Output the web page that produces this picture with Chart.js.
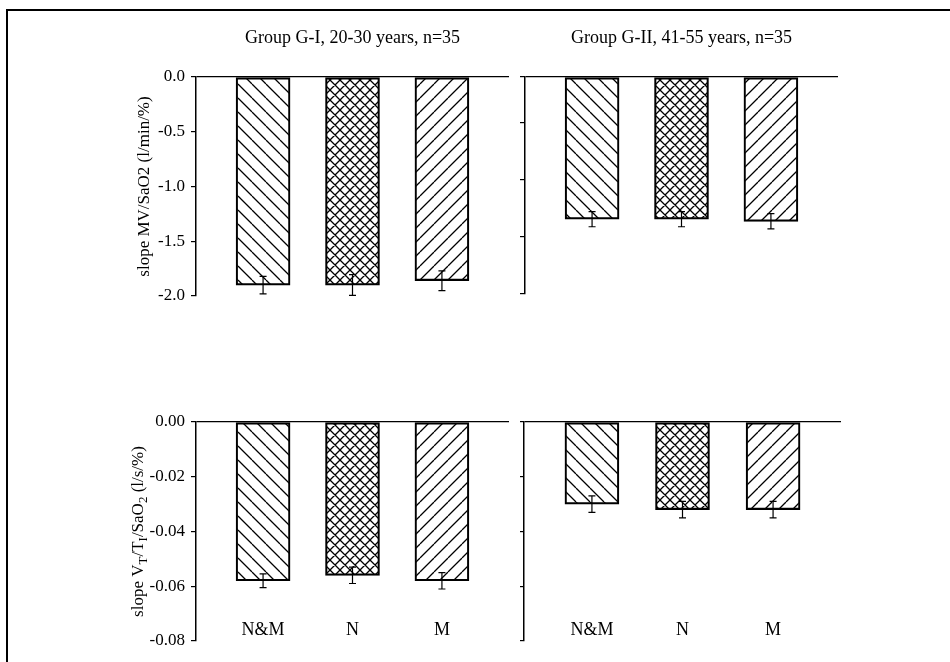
<!DOCTYPE html>
<html>
<head>
<meta charset="utf-8">
<script src="https://cdn.jsdelivr.net/npm/chart.js@4.4.1/dist/chart.umd.min.js"></script>
<style>
  body { margin: 0; background: #fff; }
  #page { position: relative; width: 950px; height: 662px; overflow: hidden; }
  .frame { position: absolute; left: 6px; top: 9px; right: -10px; bottom: -10px;
           border-left: 2px solid #000; border-top: 2px solid #000; }
  .box { position: absolute; }
</style>
</head>
<body>
<div id="page">
  <div class="frame"></div>
  <div class="box" style="left:0;top:0;width:520px;height:320px"><canvas id="tl"></canvas></div>
  <div class="box" style="left:520px;top:0;width:430px;height:320px"><canvas id="tr"></canvas></div>
  <div class="box" style="left:0;top:320px;width:520px;height:342px"><canvas id="bl"></canvas></div>
  <div class="box" style="left:520px;top:320px;width:430px;height:342px"><canvas id="br"></canvas></div>
</div>
<script>
const categories = ['N&M', 'N', 'M'];
const catPos = [1, 2, 3];

// slope MV/SaO2
const mvYoung = [-1.90, -1.90, -1.86];
const mvYoungErr = [0.08, 0.095, 0.09];
const mvOld = [-1.31, -1.31, -1.33];
const mvOldErr = [0.07, 0.07, 0.07];

// slope VT/TI/SaO2
const vtYoung = [-0.058, -0.056, -0.058];
const vtYoungErr = [0.0025, 0.003, 0.003];
const vtOld = [-0.030, -0.032, -0.032];
const vtOldErr = [0.003, 0.003, 0.003];

const mvTicks = [0, -0.5, -1.0, -1.5, -2.0];
const mvOldTicks = [0, -0.42, -0.95, -1.47, -2.0];
const vtTicks = [0, -0.02, -0.04, -0.06, -0.08];

const titleYoung = 'Group G-I, 20-30 years, n=35';
const titleOld = 'Group G-II, 41-55 years, n=35';
const mvLabel = [{ t: 'slope MV/SaO2 (l/min/%)' }];
const vtLabel = [{ t: 'slope V' }, { t: 'T', sub: true }, { t: '/T' }, { t: 'I', sub: true },
                 { t: '/SaO' }, { t: '2', sub: true }, { t: ' (l/s/%)' }];

const FONT = 'Liberation Serif, Times New Roman, serif';

// hatch fills
function hatch(kind) {
  const s = kind === 'cross' ? 10 : 14;
  const c = document.createElement('canvas');
  c.width = s; c.height = s;
  const g = c.getContext('2d');
  g.strokeStyle = '#000';
  g.lineWidth = 1.3;
  g.beginPath();
  for (let k = -1; k <= 1; k++) {
    if (kind === 'back' || kind === 'cross') { g.moveTo(k * s, 0); g.lineTo(k * s + s, s); }
    if (kind === 'fwd' || kind === 'cross') { g.moveTo(k * s + s, 0); g.lineTo(k * s, s); }
  }
  g.stroke();
  return g.createPattern(c, 'repeat');
}
const fills = [hatch('back'), hatch('cross'), hatch('fwd')];

const extras = {
  id: 'extras',
  afterDatasetsDraw(chart, args, o) {
    const ctx = chart.ctx, xs = chart.scales.x, ys = chart.scales.y, a = chart.chartArea;
    ctx.save();
    // error bars
    ctx.strokeStyle = '#000';
    ctx.lineWidth = 1.2;
    o.values.forEach((v, i) => {
      const x = xs.getPixelForValue(catPos[i]);
      const y1 = ys.getPixelForValue(v - o.errs[i]);
      const y2 = ys.getPixelForValue(v + o.errs[i]);
      ctx.beginPath();
      ctx.moveTo(x, y1); ctx.lineTo(x, y2);
      ctx.moveTo(x - 3.5, y1); ctx.lineTo(x + 3.5, y1);
      ctx.moveTo(x - 3.5, y2); ctx.lineTo(x + 3.5, y2);
      ctx.stroke();
    });
    ctx.fillStyle = '#000';
    // category labels inside the plot
    if (o.cats) {
      ctx.font = '18px ' + FONT;
      ctx.textAlign = 'center';
      ctx.textBaseline = 'middle';
      categories.forEach((c, i) => ctx.fillText(c, xs.getPixelForValue(catPos[i]), o.catY));
    }
    // panel title
    if (o.title) {
      ctx.font = '18px ' + FONT;
      ctx.textAlign = 'center';
      ctx.textBaseline = 'middle';
      ctx.fillText(o.title, (a.left + a.right) / 2, 38);
    }
    // y title with subscripts
    if (o.yTitle) {
      const big = '17px ' + FONT, small = '13px ' + FONT;
      let w = 0;
      o.yTitle.forEach(p => { ctx.font = p.sub ? small : big; w += ctx.measureText(p.t).width; });
      ctx.translate(o.yTitleX, (a.top + a.bottom) / 2);
      ctx.rotate(-Math.PI / 2);
      ctx.textAlign = 'left';
      ctx.textBaseline = 'middle';
      let x = -w / 2;
      o.yTitle.forEach(p => {
        ctx.font = p.sub ? small : big;
        ctx.fillText(p.t, x, p.sub ? 5 : 0);
        x += ctx.measureText(p.t).width;
      });
    }
    ctx.restore();
  }
};

function panel(id, values, errs, o) {
  return new Chart(document.getElementById(id), {
    type: 'bar',
    data: {
      datasets: [{
        data: catPos.map((x, i) => ({ x: x, y: values[i] })),
        backgroundColor: fills,
        borderColor: '#000',
        borderWidth: 1.5,
        borderSkipped: false,
        barThickness: 54
      }]
    },
    options: {
      responsive: true,
      maintainAspectRatio: false,
      animation: false,
      layout: { padding: o.pad },
      plugins: {
        legend: { display: false },
        tooltip: { enabled: false },
        extras: { values, errs, cats: o.cats, catY: o.catY, title: o.title,
                  yTitle: o.yTitle, yTitleX: o.yTitleX }
      },
      scales: {
        x: { type: 'linear', min: 0.25, max: 3.75, offset: false, display: false },
        y: {
          min: o.min, max: 0,
          afterFit: s => { s.width = o.axisW; },
          afterBuildTicks: s => { s.ticks = o.ticks.map(v => ({ value: v })); },
          ticks: {
            display: o.labels,
            color: '#000',
            padding: 6,
            font: { family: FONT, size: 17 },
            callback: v => v.toFixed(o.dec)
          },
          grid: {
            color: c => (c.tick && c.tick.value === 0 ? '#000' : 'rgba(0,0,0,0)'),
            tickColor: '#000',
            tickLength: 5,
            lineWidth: 1.2
          },
          border: { display: true, color: '#000', width: 1.5 }
        }
      }
    },
    plugins: [extras]
  });
}

panel('tl', mvYoung, mvYoungErr, {
  pad: { top: 77, bottom: 24, right: 11, left: 0 }, axisW: 196, min: -2.0,
  ticks: mvTicks, labels: true, dec: 1, title: titleYoung, yTitle: mvLabel, yTitleX: 145
});
panel('tr', mvOld, mvOldErr, {
  pad: { top: 77, bottom: 26, right: 112, left: 0 }, axisW: 5, min: -2.0,
  ticks: mvOldTicks, labels: false, dec: 1, title: titleOld
});
panel('bl', vtYoung, vtYoungErr, {
  pad: { top: 102, bottom: 21, right: 11, left: 0 }, axisW: 196, min: -0.08,
  ticks: vtTicks, labels: true, dec: 2, yTitle: vtLabel, yTitleX: 139, cats: true, catY: 310
});
panel('br', vtOld, vtOldErr, {
  pad: { top: 102, bottom: 21, right: 109, left: 0 }, axisW: 4, min: -0.08,
  ticks: vtTicks, labels: false, dec: 2, cats: true, catY: 310
});
</script>
</body>
</html>
